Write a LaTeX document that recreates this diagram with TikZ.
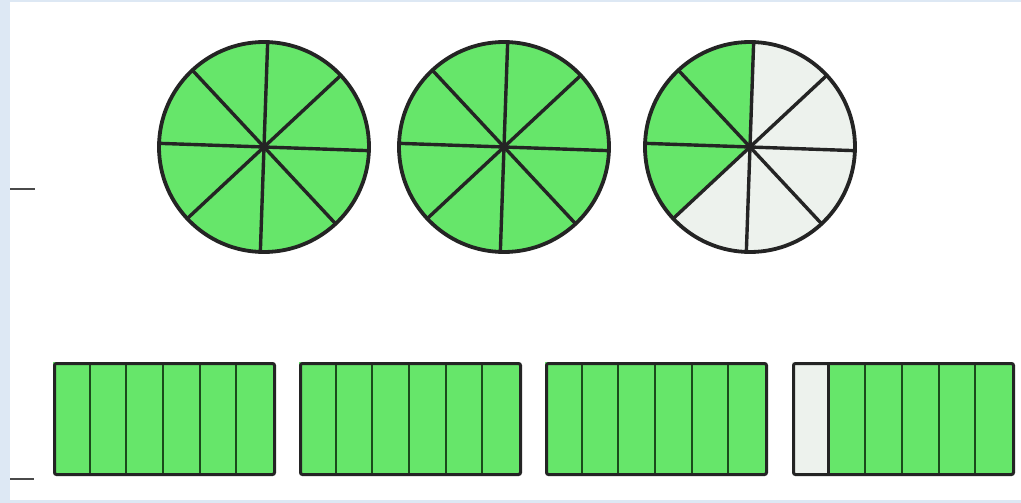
\documentclass[tikz,border=0pt]{standalone}
\begin{document}
\begin{tikzpicture}[x=1pt,y=-1pt,
  frame/.style={fill=framebl,draw=none},
  pie/.style={draw=outl,line width=3.8pt},
  spoke/.style={draw=outl,line width=3.4pt},
  bar/.style={draw=outl,line width=3pt,rounded corners=2pt},
  divider/.style={draw=divg,line width=1.8pt},
  tick/.style={draw=tickg,line width=2.8pt}]
\definecolor{framebl}{HTML}{DDE8F4}
\definecolor{grn}{HTML}{66E66A}
\definecolor{pale}{HTML}{EDF2ED}
\definecolor{outl}{HTML}{242424}
\definecolor{divg}{HTML}{1B4A1B}
\definecolor{tickg}{HTML}{4A4A4A}
\useasboundingbox (0,0) rectangle (1021,503);
\fill[white] (0,0) rectangle (1021,503);
\path[frame] (0,0) rectangle (10,503);
\path[frame] (0,0) rectangle (1021,2);
\path[frame] (0,500) rectangle (1021,503);
% ticks
\coordinate (t1a) at (10,189); \coordinate (t1b) at (35,189);
\coordinate (t2a) at (10,479); \coordinate (t2b) at (34,479);
\draw[tick] (t1a) -- (t1b);
\draw[tick] (t2a) -- (t2b);
% circles
\foreach \cx/\name/\ng in {264/c1/8, 504/c2/8, 750/c3/3}{
  \coordinate (\name) at (\cx,147);
  \fill[pale] (\name) circle (105);
  \ifnum\ng=8
    \fill[grn] (\name) circle (105);
  \else
    \fill[grn] (\name) -- ++(-88:105) arc[start angle=-88,end angle=-223,radius=105] -- cycle;
  \fi
  \foreach \a in {2,47,92,137,182,227,272,317}{
    \draw[spoke] (\name) -- ++(\a:105);
  }
  \draw[pie] (\name) circle (105);
}
% bars
\foreach \bx/\name/\first in {53/b1/0, 299/b2/0, 545/b3/0, 792/b4/1}{
  \fill[grn] (\bx,362) rectangle ++(220,111);
  \ifnum\first=1
    \fill[pale] (\bx,362) rectangle ++(36.67,111);
  \fi
  \foreach \k in {1,...,5}{
    \draw[divider] (\bx+\k*36.67,362) -- (\bx+\k*36.67,473);
  }
  \ifnum\first=1
    \draw[outl,line width=3pt] (\bx+36.67,362) -- (\bx+36.67,473);
  \fi
  \node[bar,minimum width=220pt,minimum height=111pt,inner sep=0pt,anchor=north west] (\name) at (\bx,362) {};
}
\end{tikzpicture}
\end{document}
